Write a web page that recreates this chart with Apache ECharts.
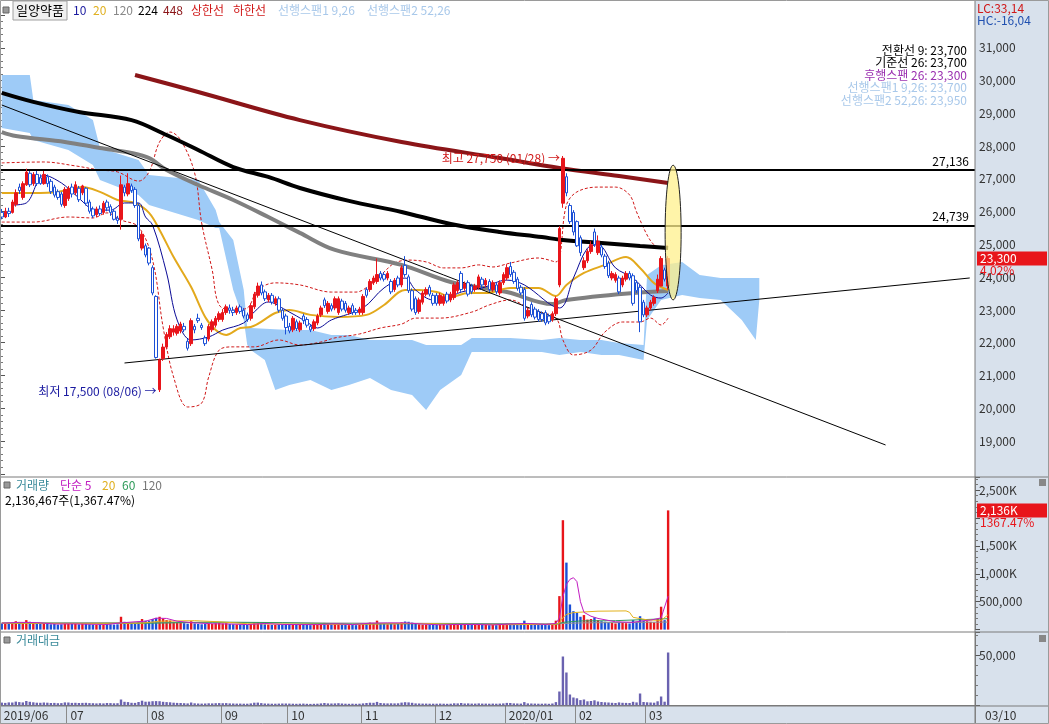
<!DOCTYPE html>
<html><head><meta charset="utf-8">
<script src="https://cdn.jsdelivr.net/npm/echarts/dist/echarts.min.js"></script>
<style>html,body{margin:0;padding:0;background:#fff}#c{width:1049px;height:724px}</style>
</head><body><div id="c"></div><script>
// ---------- DATA ----------
const monthTicks = [[0,'2019/06'],[19,'07'],[42,'08'],[63,'09'],[82,'10'],[103,'11'],[124,'12'],[144,'2020/01'],[164,'02'],[184,'03']];
const opens  = [25300,25100,25350,25300,25650,26400,25950,26500,27000,26550,26950,26800,26550,26850,26650,26400,26200,26100,25600,
25900,26400,26150,26350,26150,26350,25750,25450,25200,25450,25300,25750,25550,25350,25050,25000,26400,26100,26450,26300,25600,23750,23850,
23750,22900,21650,17600,18950,19450,19900,20100,20050,20150,20350,19700,19600,20350,20700,20400,19850,19800,20200,20400,20650,
20650,20950,21150,21050,20950,21200,21050,20850,20700,21200,21700,22150,21850,21500,21700,21350,21550,21050,20800,
20350,20200,20550,20200,20800,20650,20350,20250,20500,20850,21500,21000,21250,21150,20950,21450,21350,20950,21250,21050,20950,
20950,21950,21950,22250,22300,22650,22600,22450,22300,21950,22450,22150,23000,22500,21900,21550,21000,21400,21750,22050,21700,
21700,21350,21350,21750,21500,21600,21900,22650,22000,22250,22100,21950,22050,22400,22150,22300,21950,22150,21800,22250,
22450,22950,22700,22400,22050,21950,20800,21300,21100,21000,20900,20950,20800,20650,20900,22150,25700,26850,25600,25300,
24900,24200,22900,23200,23600,24450,23550,23800,23400,23100,22450,22350,22450,22150,22400,22650,22550,22250,22050,21400,
20850,21150,21350,21900,22100,22800,22100];
const closes = [25100,25350,25250,25750,26150,26250,26550,27050,26500,26950,26550,26550,26950,26550,26200,26050,25950,25650,26300,
26350,26100,26500,25850,26450,25700,25350,25150,25450,25250,25700,25500,25300,25000,24950,26500,26150,26550,26250,25600,24150,24350,23450,
23100,21800,19000,18900,19450,20000,20250,20250,20350,20450,20200,19400,20600,20200,20600,20300,19600,20350,20550,20700,20900,
20950,21200,21050,20950,21150,21000,20800,20650,21250,21750,22100,21800,21550,21700,21400,21550,21050,20700,20300,
20150,20700,20250,20500,20600,20400,20200,20550,20800,21150,21250,21350,21100,21550,21550,21100,21050,21150,20950,20950,21100,
21650,21700,22300,22450,22600,22450,22400,22650,21850,22350,22150,22900,22600,21900,21100,20950,21500,21800,21950,21750,21350,
21350,21700,21650,21450,21750,22150,22250,21950,22200,21750,21850,22100,22500,22150,22350,21950,22250,21850,22250,22600,
22900,22600,22300,22000,21800,20700,21050,20850,20750,20650,20650,20500,20550,20900,21550,24600,27650,26150,24900,24450,
23850,23550,23200,23600,23900,23900,24050,23450,22950,22550,22650,22600,21850,22450,22650,22450,21350,21900,20550,20850,
21150,21400,21600,22400,23300,22400,23300];
const lows   = [25000,25050,25100,25250,25550,26100,25850,26450,26400,26450,26450,26500,26500,26400,26100,25950,25850,25550,25500,
25800,25950,26050,25750,26050,25600,25250,25050,25100,25150,25200,25350,25150,24950,24800,24550,26000,26000,26150,25500,24050,23650,23350,
23000,21700,18950,17500,18850,19350,19800,19950,19950,20050,20100,19300,19500,20050,20500,20200,19500,19700,20100,20300,20550,
20550,20850,20900,20800,20850,20900,20700,20550,20600,21100,21600,21700,21450,21400,21300,21250,20950,20600,20000,
20050,20100,20150,20100,20450,20300,20100,20150,20400,20750,21150,20900,21000,21050,20850,21000,20950,20850,20850,20850,20850,
20850,21600,21850,22150,22200,22350,22300,22350,21750,21850,22050,22050,22500,21800,21000,20850,20900,21300,21650,21650,21250,
21250,21250,21250,21350,21400,21500,21800,21850,21900,21650,21750,21850,21950,21950,22050,21850,21850,21750,21700,22150,
22350,22500,22200,21900,21700,20600,20700,20750,20650,20550,20550,20400,20450,20550,20800,22050,25500,26000,24800,24300,
23800,23400,22800,23100,23500,23800,23450,23350,22850,22450,22350,22250,21750,22050,22300,22350,21250,21800,20100,20750,
20750,21050,21250,21800,22150,22300,21950];
const highs  = [25450,25500,25500,25850,26300,26550,26650,27200,27100,27050,27100,26950,27100,26950,26750,26500,26300,26200,26400,
26450,26550,26650,26450,26500,26400,25850,25550,25550,25600,25800,25850,25650,25450,25150,26900,26500,27000,26550,26400,25700,24450,23950,
23800,23000,21700,18950,19600,20100,20400,20400,20450,20550,20500,19800,20700,20450,20900,20500,19950,20450,20650,20800,21000,
21100,21300,21300,21200,21250,21300,21150,20950,21350,21850,22250,22300,21950,21800,21800,21650,21650,21150,20900,
20500,20800,20650,20600,20900,20750,20450,20650,20900,21250,21600,21450,21350,21650,21650,21550,21450,21250,21350,21150,21200,
21750,22050,22400,22550,23300,22750,22700,22750,22400,22450,22550,23000,23400,22600,22000,21650,21600,21900,22050,22150,21800,
21800,21800,21750,21850,21850,22250,22350,22750,22300,22350,22200,22200,22600,22500,22450,22400,22350,22250,22350,22700,
23050,23150,22800,22500,22150,22050,21150,21400,21200,21100,21000,21050,20900,21000,21650,24700,27750,27000,25700,25400,
24950,24300,23350,23700,24050,24600,24300,23900,23500,23200,22750,22700,22550,22550,22750,22750,22650,22350,22150,21500,
21250,21500,21700,22600,23400,22900,23400];
// volume (thousand shares) and trading value (million won)
const volK = [110,100,120,115,150,130,120,170,140,120,105,100,115,105,95,100,90,95,120,
115,100,105,95,100,105,95,90,85,90,85,100,95,90,95,230,140,130,105,100,140,190,160,
160,190,210,230,200,170,160,140,130,125,115,105,150,110,100,95,100,110,105,115,120,
110,115,100,95,90,90,85,85,100,130,135,110,95,90,85,85,90,95,100,
95,90,85,90,95,85,80,85,90,100,120,100,95,100,110,95,85,80,85,80,85,
100,115,125,120,160,110,100,95,100,95,100,130,145,140,125,100,95,90,90,85,85,
85,90,85,80,85,100,95,115,90,95,85,85,95,85,85,80,85,80,85,95,
115,110,95,90,85,160,100,95,90,85,85,90,80,95,160,600,1960,1200,450,330,
300,230,260,180,190,220,170,150,140,130,120,110,140,120,115,110,170,140,240,160,
150,140,130,190,410,170,2136];
const amount = [2900,2600,3100,3000,3900,3400,3100,4500,3700,3200,2800,2700,3000,2800,2500,2600,2300,2400,3100,
3000,2600,2700,2500,2600,2700,2400,2300,2100,2300,2100,2500,2400,2200,2300,6000,3700,3400,2700,2600,3500,4800,3800,
3900,4300,4400,4300,3700,3400,3200,2800,2600,2500,2300,2100,3000,2200,2000,1900,2000,2200,2100,2300,2400,
2300,2400,2100,2000,1900,1900,1800,1800,2100,2800,2900,2400,2000,1900,1800,1800,1900,2000,2000,
1900,1800,1700,1800,1900,1700,1600,1700,1800,2100,2500,2100,2000,2100,2300,2000,1800,1700,1800,1700,1800,
2100,2500,2800,2700,3600,2500,2200,2100,2200,2100,2200,2900,3300,3100,2700,2100,2000,1900,1900,1800,1800,
1800,1900,1800,1700,1800,2200,2100,2500,2000,2100,1900,1900,2100,1900,1900,1800,1900,1800,1900,2100,
2600,2500,2100,2000,1900,3400,2100,2000,1900,1800,1800,1900,1700,2000,3400,14000,49000,33000,11000,8000,
7200,5400,6000,4200,4500,5200,4000,3500,3200,3000,2700,2500,3100,2700,2600,2500,3700,3100,12000,3500,
3200,3000,2800,4200,9000,3800,53000];
// moving averages [index, value]
const ma10 = [[3,25620],[7,25710],[12,26920],[17,26580],[21,26060],[27,25400],[31,25400],[35,25710],[39,25710],[41,25100],[43,24750],[47,22670],[50,20630],[54,19760],[59,19890],[63,20190],[69,20500],[72,20980],[76,21410],[81,21060],[87,20540],[90,20280],[94,20630],[103,21150],[109,22020],[115,22450],[118,21930],[123,21500],[127,21580],[131,21840],[137,22020],[144,22360],[149,22150],[159,21150],[163,22450],[167,23750],[170,23890],[175,22890],[180,22450],[185,21710],[188,21580],[190,21800]];
const ma20 = [[0,26140],[9,26140],[16,26190],[23,26400],[28,26190],[33,25840],[38,25710],[42,25280],[45,24540],[49,23360],[54,22060],[58,20760],[61,20190],[64,19980],[68,20280],[71,20320],[78,20930],[82,21060],[88,20850],[96,20760],[104,20850],[109,21280],[115,21930],[119,21930],[124,21840],[128,21630],[133,21800],[138,21800],[145,22020],[153,22020],[158,21670],[161,22150],[166,22670],[172,23020],[178,23360],[182,22890],[186,22230],[190,21930]];
const ma120 = [[0,28790],[4,28620],[18,28360],[28,28100],[37,27880],[42,27660],[47,27140],[56,26490],[66,25840],[76,25100],[85,24410],[95,23670],[114,23020],[128,22280],[144,21840],[157,21320],[161,21500],[180,21800],[190,21890]];
const ma224 = [[0,30490],[9,30100],[22,29660],[37,29310],[47,28660],[56,28010],[66,27270],[76,26840],[85,26360],[99,25800],[114,25320],[128,24800],[142,24450],[154,24230],[160,24100],[171,23970],[182,23840],[190,23750]];
const ma448 = [[38,31270],[56,30530],[85,29310],[114,28360],[142,27660],[159,27230],[176,26880],[190,26580]];
const bbUpper = [[0,27450],[12,27490],[21,27320],[28,27140],[33,27060],[39,26660],[42,27060],[45,28360],[48,28790],[51,28450],[55,27010],[57,24840],[60,22800],[62,21280],[66,21060],[70,21150],[73,21930],[78,22240],[85,22150],[94,21840],[101,21840],[105,22150],[109,22710],[112,23100],[116,23230],[121,23150],[126,22890],[131,22890],[136,23020],[140,22930],[145,23100],[153,23320],[158,23150],[161,25620],[164,26190],[170,26400],[175,26400],[179,26060],[181,25320],[184,24320],[186,23890],[188,23750],[190,23880]];
const bbLower = [[0,24880],[9,24880],[19,25100],[26,25060],[30,25280],[34,24970],[39,24670],[43,23230],[46,20320],[49,18150],[53,16850],[57,17020],[59,18150],[62,19320],[66,19460],[72,19460],[79,19760],[85,19540],[91,19670],[95,19850],[102,20020],[108,20280],[114,20450],[118,20710],[125,20710],[134,20970],[139,21280],[145,21500],[151,21060],[158,20710],[160,19760],[163,19110],[168,19320],[172,20110],[177,20540],[182,20540],[185,20710],[188,20410],[190,20710]];
// Ichimoku leading spans (cloud edges) [index, value]
const span1 = [[0,31270],[8,31270],[9,30180],[19,29970],[26,29310],[28,28100],[39,27580],[42,26920],[56,26710],[61,25400],[62,24880],[66,24100],[69,21930],[70,20280],[71,20280],[82,20190],[88,20190],[94,19980],[99,19980],[105,19760],[111,19760],[117,19760],[121,19540],[123,19540],[125,19540],[131,19540],[134,19850],[139,19850],[145,19850],[154,19760],[159,19850],[165,19760],[171,19760],[176,19630],[183,19540],[184,22580],[188,23010],[194,23150],[199,22580],[205,22450],[211,22450],[216,22450]];
const span2 = [[0,28970],[8,28750],[9,28450],[19,28010],[26,27360],[28,26710],[39,26060],[42,25620],[56,24970],[61,24620],[62,24620],[66,21930],[69,20630],[70,19540],[71,19320],[75,18890],[78,17590],[82,17800],[88,18020],[94,17590],[99,17800],[105,18110],[111,17590],[117,17370],[121,16720],[123,17150],[125,17590],[131,18240],[134,19240],[139,19240],[145,19240],[154,19240],[159,19110],[165,19240],[171,19110],[176,19110],[183,18890],[184,20630],[188,21500],[194,21710],[199,21580],[205,21500],[211,20630],[215,19760],[216,21500]];
// volume moving averages [index, thousand shares]
const volMa5 = [[0,115],[5,130],[10,125],[15,100],[20,102],[25,96],[30,92],[34,120],[38,140],[41,150],[44,205],[47,200],[50,150],[55,120],[60,105],[65,100],[70,90],[75,110],[80,92],[85,90],[90,90],[95,105],[100,90],[105,115],[110,120],[115,120],[120,100],[125,85],[130,92],[135,92],[140,84],[145,100],[150,110],[155,92],[158,110],[159,210],[160,590],[161,810],[162,900],[163,930],[164,860],[165,500],[166,310],[168,240],[170,200],[175,140],[180,130],[183,160],[185,170],[188,210],[190,600]];
const volMa20 = [[0,115],[20,110],[40,115],[45,150],[55,160],[62,140],[70,105],[80,100],[100,92],[110,105],[120,110],[130,95],[143,88],[158,95],[159,120],[160,215],[161,270],[162,290],[163,305],[170,330],[178,335],[179,310],[180,220],[184,175],[188,165],[190,265]];
const volMa60 = [[0,115],[40,112],[60,135],[80,125],[100,100],[120,105],[140,95],[158,92],[160,130],[165,155],[175,160],[190,195]];
const volMa120 = [[0,120],[60,125],[120,112],[158,105],[165,120],[190,135]];
// labels
const priceNow = 23300, prevClose = 22400, hLine1 = 27136, hLine2 = 24739;
const highVal = 27750, highIdx = 160, lowVal = 17500, lowIdx = 45;
const nSlots = 278;
const categories = Array.from({length: nSlots}, (_, i) => String(i));

// ---------- CHART ----------
const FONT = "'Noto Sans CJK KR','DejaVu Sans',sans-serif";
const UP = '#e8151b', DOWN = '#1a4fd6';
const chart = echarts.init(document.getElementById('c'));
const monthIdx = monthTicks.map(m => m[0]);
const monthName = {}; monthTicks.forEach(m => monthName[m[0]] = m[1]);
const candleData = opens.map((o, i) => [o, closes[i], lows[i], highs[i]]);
const volData = volK.map((v, i) => ({value: v, itemStyle: {color: closes[i] >= opens[i] ? UP : DOWN}}));
const gridL = 0, gridR = 74;
const hidX = (g) => ({type: 'category', data: categories, gridIndex: g, boundaryGap: true, show: false});
function lineS(data, color, width, extra) {
  return Object.assign({type: 'line', data, xAxisIndex: 0, yAxisIndex: 0, showSymbol: false, symbol: 'none',
    smooth: 0.35, lineStyle: {color, width}, silent: true, z: 3, animation: false}, extra || {});
}
const axisCommon = {
  axisLine: {show: true, lineStyle: {color: '#7a7a7a'}}, splitLine: {show: false},
  axisTick: {show: true, length: 5, lineStyle: {color: '#555'}},
  minorTick: {show: true, splitNumber: 5, length: 3, lineStyle: {color: '#777'}}
};
const option = {
  animation: false,
  backgroundColor: '#ffffff',
  grid: [
    {left: gridL, right: gridR, top: 12.09, height: 460.5},
    {left: gridL, right: gridR, top: 15.0, height: 458.8},
    {left: gridL, right: gridR, top: 477, height: 152.6},
    {left: gridL, right: gridR, top: 632, height: 73.5}
  ],
  xAxis: [
    hidX(0),
    {type: 'value', gridIndex: 1, show: false, min: 0, max: 1},
    hidX(2),
    {type: 'category', data: categories, gridIndex: 3, boundaryGap: true,
      axisLine: {show: true, lineStyle: {color: '#7a7a7a', width: 1}},
      axisTick: {show: true, length: 18, interval: (i) => monthIdx.includes(i), lineStyle: {color: '#8a8a8a'}},
      axisLabel: {show: true, interval: (i) => monthIdx.includes(i), formatter: (v, i) => monthName[i] || '',
        align: 'left', margin: 4, padding: [0, 0, 0, 2], color: '#333', fontSize: 12, fontFamily: FONT}
    }
  ],
  yAxis: [
    {type: 'value', gridIndex: 0, min: 14000, max: 34000, show: false, scale: true},
    Object.assign({type: 'value', gridIndex: 1, min: 18000, max: 32000, interval: 1000, position: 'right',
      axisLabel: {color: '#333', fontSize: 12, fontFamily: FONT, margin: 4, showMinLabel: false, showMaxLabel: false,
        formatter: v => v.toLocaleString('en-US')}}, axisCommon),
    Object.assign({type: 'value', gridIndex: 2, min: 0, max: 2734, interval: 500, position: 'right',
      axisLabel: {color: '#333', fontSize: 12, fontFamily: FONT, margin: 4, showMinLabel: false, showMaxLabel: false,
        formatter: v => (v === 2000 ? '' : v >= 1000 ? v.toLocaleString('en-US') + 'K' : (v * 1000).toLocaleString('en-US'))}}, axisCommon),
    Object.assign({type: 'value', gridIndex: 3, min: 0, max: 73500, interval: 50000, position: 'right',
      axisLabel: {color: '#333', fontSize: 12, fontFamily: FONT, margin: 4, showMinLabel: false, showMaxLabel: false,
        formatter: v => v.toLocaleString('en-US')}}, axisCommon)
  ],
  series: [
    {type: 'custom', xAxisIndex: 0, yAxisIndex: 0, data: [[0, 20000]], silent: true, z: 1, clip: true,
      renderItem: function (params, api) {
        const pts = [];
        span1.forEach(p => pts.push(api.coord(p)));
        for (let k = span2.length - 1; k >= 0; k--) pts.push(api.coord(span2[k]));
        return {type: 'polygon', shape: {points: pts}, style: {fill: '#9ecbf7', stroke: null}};
      }},
    lineS(bbUpper, '#d01818', 1, {lineStyle: {color: '#d01818', width: 1, type: [3, 2]}}),
    lineS(bbLower, '#d01818', 1, {lineStyle: {color: '#d01818', width: 1, type: [3, 2]}}),
    lineS(ma448, '#8b1518', 4),
    lineS(ma224, '#000000', 4),
    lineS(ma120, '#808080', 4),
    lineS(ma20, '#e3a91c', 2),
    lineS(ma10, '#0a0a96', 1),
    {type: 'line', xAxisIndex: 0, yAxisIndex: 0, data: [[0, 29965], [252, 15199]], symbol: 'none',
      lineStyle: {color: '#000', width: 1}, silent: true, z: 4},
    {type: 'line', xAxisIndex: 0, yAxisIndex: 0, data: [[35, 18760], [276, 22452]], symbol: 'none',
      lineStyle: {color: '#000', width: 1}, silent: true, z: 4},
    {type: 'candlestick', xAxisIndex: 0, yAxisIndex: 0, data: candleData, barWidth: 3, z: 5,
      itemStyle: {color: UP, color0: '#ffffff', borderColor: UP, borderColor0: DOWN, borderWidth: 1},
      markLine: {symbol: 'none', silent: true, animation: false,
        lineStyle: {color: '#000', width: 2, type: 'solid'},
        label: {position: 'insideEndTop', color: '#000', fontSize: 12, fontFamily: FONT, distance: [6, 3],
          formatter: p => p.value.toLocaleString('en-US')},
        data: [{yAxis: hLine1}, {yAxis: hLine2}]}},
    {type: 'bar', xAxisIndex: 2, yAxisIndex: 2, data: volData, barWidth: 2.4, z: 2},
    {type: 'line', xAxisIndex: 2, yAxisIndex: 2, data: volMa120, symbol: 'none', lineStyle: {color: '#909090', width: 1}, z: 3},
    {type: 'line', xAxisIndex: 2, yAxisIndex: 2, data: volMa60, symbol: 'none', lineStyle: {color: '#2f9b5a', width: 1}, z: 3},
    {type: 'line', xAxisIndex: 2, yAxisIndex: 2, data: volMa20, symbol: 'none', lineStyle: {color: '#e3b21c', width: 1}, z: 3},
    {type: 'line', xAxisIndex: 2, yAxisIndex: 2, data: volMa5, symbol: 'none', lineStyle: {color: '#c21dc2', width: 1}, z: 3},
    {type: 'bar', xAxisIndex: 3, yAxisIndex: 3, data: amount, barWidth: 2.4, itemStyle: {color: '#6a62b0'}, z: 2}
  ]
};
chart.setOption(option);

// ---------- ANNOTATIONS ----------
const P = (g, x, y) => chart.convertToPixel({xAxisIndex: g === 0 ? 0 : 2, yAxisIndex: g}, [x, y]);
const txt = (x, y, text, color, extra) => Object.assign({type: 'text', x, y, z: 50,
  style: Object.assign({text, fill: color, font: '12px ' + FONT, textVerticalAlign: 'middle'}, extra || {})});
const nowPt = P(0, 190, priceNow);
const volPt = P(2, 190, volK[volK.length - 1]);
const hiPt = P(0, highIdx, highVal);
const loPt = P(0, lowIdx, lowVal);
const elTop = P(0, 190, 27350), elBot = P(0, 190, 21500);
const pct = ((priceNow / prevClose - 1) * 100).toFixed(2).replace('.', ',');
const gfx = [
  {type: 'rect', shape: {x: 975, y: 0, width: 74, height: 724}, style: {fill: '#d8e1ec'}, z: -10, silent: true},
  {type: 'rect', shape: {x: 0, y: 706, width: 975, height: 18}, style: {fill: '#d8e1ec'}, z: -10, silent: true},
  {type: 'line', shape: {x1: 0, y1: 477, x2: 1049, y2: 477}, style: {stroke: '#7a7a7a', lineWidth: 1}, z: 40},
  {type: 'line', shape: {x1: 0, y1: 632, x2: 1049, y2: 632}, style: {stroke: '#7a7a7a', lineWidth: 1}, z: 40},
  {type: 'line', shape: {x1: 0, y1: 706, x2: 1049, y2: 706}, style: {stroke: '#7a7a7a', lineWidth: 1}, z: 40},
  {type: 'line', shape: {x1: 975, y1: 0, x2: 975, y2: 724}, style: {stroke: '#7a7a7a', lineWidth: 1}, z: 40},
  {type: 'rect', shape: {x: 0.5, y: 0.5, width: 1048, height: 723}, style: {fill: null, stroke: '#9a9a9a', lineWidth: 1}, z: 40},
  // yellow ellipse
  {type: 'ellipse', shape: {cx: nowPt[0] + 5, cy: (elTop[1] + elBot[1]) / 2, rx: 8, ry: (elBot[1] - elTop[1]) / 2},
    style: {fill: 'rgba(255,240,140,0.75)', stroke: '#222', lineWidth: 1}, z: 30},
  // top-left legend
  {type: 'rect', shape: {x: 3, y: 7, width: 6, height: 6}, style: {fill: '#999', stroke: '#666'}, z: 50},
  {type: 'rect', shape: {x: 13, y: 1, width: 54, height: 19}, style: {fill: '#f0f0f0', stroke: '#a0a0a0'}, z: 50},
  txt(16, 10, '일양약품', '#000', {font: '13px ' + FONT}),
  txt(73, 10, '10', '#1a1aa0'),
  txt(93, 10, '20', '#e0b020'),
  txt(113, 10, '120', '#888888'),
  txt(138, 10, '224', '#000000'),
  txt(163, 10, '448', '#8b1518'),
  txt(191, 10, '상한선', '#d01818'),
  txt(233, 10, '하한선', '#d01818'),
  txt(278, 10, '선행스팬1 9,26', '#a8c8ea'),
  txt(367, 10, '선행스팬2 52,26', '#a8c8ea'),
  // top-right info
  txt(967, 50, '전환선 9: 23,700', '#000', {textAlign: 'right'}),
  txt(967, 62, '기준선 26: 23,700', '#000', {textAlign: 'right'}),
  txt(967, 75, '후행스팬 26: 23,300', '#9a30b0', {textAlign: 'right'}),
  txt(967, 87, '선행스팬1 9,26: 23,700', '#a8c8ea', {textAlign: 'right'}),
  txt(967, 100, '선행스팬2 52,26: 23,950', '#a8c8ea', {textAlign: 'right'}),
  txt(977, 8, 'LC:33,14', '#d01818'),
  txt(977, 20, 'HC:-16,04', '#2050b0'),
  // price tag
  {type: 'rect', shape: {x: 977, y: nowPt[1] - 7, width: 70, height: 14}, style: {fill: '#e8151b'}, z: 45},
  txt(980, nowPt[1], priceNow.toLocaleString('en-US'), '#fff'),
  txt(980, nowPt[1] + 12, pct + '%', '#e8151b'),
  // high / low annotation
  txt(hiPt[0] - 3, hiPt[1] + 2, '최고 ' + highVal.toLocaleString('en-US') + ' (01/28) →', '#d01818', {textAlign: 'right'}),
  txt(loPt[0] - 3, loPt[1] - 1, '최저 ' + lowVal.toLocaleString('en-US') + ' (08/06) →', '#1a1aa0', {textAlign: 'right'}),
  // volume pane
  {type: 'rect', shape: {x: 4, y: 482, width: 6, height: 6}, style: {fill: '#999', stroke: '#666'}, z: 50},
  txt(16, 485, '거래량', '#3a8a9a'),
  txt(60, 485, '단순 5', '#c21dc2'),
  txt(102, 485, '20', '#e0b020'),
  txt(122, 485, '60', '#2f9b5a'),
  txt(142, 485, '120', '#777'),
  txt(5, 500, '2,136,467주(1,367.47%)', '#000'),
  {type: 'rect', shape: {x: 977, y: volPt[1] - 7, width: 70, height: 14}, style: {fill: '#e8151b'}, z: 45},
  txt(980, volPt[1], '2,136K', '#fff'),
  txt(980, volPt[1] + 12, '1367.47%', '#e8151b'),
  {type: 'rect', shape: {x: 1039, y: 479, width: 7, height: 7}, style: {fill: '#888'}, z: 50},
  // value pane
  {type: 'rect', shape: {x: 4, y: 637, width: 6, height: 6}, style: {fill: '#999', stroke: '#666'}, z: 50},
  txt(16, 640, '거래대금', '#3a8a9a'),
  {type: 'rect', shape: {x: 1039, y: 635, width: 7, height: 7}, style: {fill: '#888'}, z: 50},
  txt(985, 715, '03/10', '#333')
];
chart.setOption({graphic: {elements: gfx}});
</script></body></html>
